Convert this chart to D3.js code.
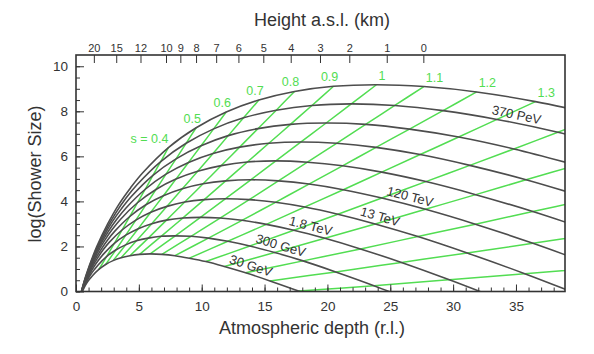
<!DOCTYPE html>
<html>
<head>
<meta charset="utf-8">
<script src="https://cdn.jsdelivr.net/npm/d3@7"></script>
<style>
  body { margin: 0; background: #fff; }
  svg { display: block; font-family: "Liberation Sans", Arial, sans-serif; }
</style>
</head>
<body>
<div id="chart"></div>
<script>
// shower age s of every sample point (same column order in each curve below)
const ages = [0.02, 0.05, 0.1, 0.15, 0.2, 0.25, 0.3, 0.4, 0.5, 0.6, 0.7, 0.8,
              0.9, 1.0, 1.1, 1.2, 1.3, 1.4, 1.5, 1.6, 1.7, 1.8, 1.9];

// one row per primary energy, lowest first
const energyLabels = ['30 GeV', '300 GeV', '1.8 TeV', '13 TeV', '120 TeV', '', '', '', '370 PeV', ''];
const labelDepth = [13.7, 16.1, 18.5, 24.0, 26.4, null, null, null, 34.9, null];

// atmospheric depth (r.l.) of each point
const depth = [
  [0.08, 0.2, 0.41, 0.62, 0.84, 1.07, 1.31, 1.82, 2.36, 2.95, 3.59, 4.29, 5.06, 5.9, 6.83, 7.87, 9.02, 10.33, 11.8, 13.49, 15.43, 17.7, 20.38],
  [0.11, 0.27, 0.55, 0.83, 1.13, 1.44, 1.76, 2.43, 3.16, 3.95, 4.81, 5.75, 6.77, 7.9, 9.15, 10.53, 12.08, 13.83, 15.8, 18.06, 20.66, 23.7, 27.29],
  [0.13, 0.34, 0.68, 1.04, 1.41, 1.8, 2.2, 3.05, 3.96, 4.95, 6.03, 7.2, 8.49, 9.9, 11.46, 13.2, 15.14, 17.33, 19.8, 22.63, 25.89, 29.7, 34.2],
  [0.16, 0.4, 0.82, 1.25, 1.7, 2.16, 2.64, 3.66, 4.76, 5.95, 7.24, 8.65, 10.2, 11.9, 13.78, 15.87, 18.2, 20.83, 23.8, 27.2, 31.12, 35.7, 41.11],
  [0.19, 0.47, 0.96, 1.46, 1.99, 2.53, 3.09, 4.28, 5.56, 6.95, 8.46, 10.11, 11.91, 13.9, 16.1, 18.53, 21.26, 24.33, 27.8, 31.77, 36.35, 41.7],
  [0.21, 0.54, 1.1, 1.67, 2.27, 2.89, 3.53, 4.89, 6.36, 7.95, 9.68, 11.56, 13.63, 15.9, 18.41, 21.2, 24.32, 27.83, 31.8, 36.34, 41.59],
  [0.24, 0.61, 1.23, 1.88, 2.56, 3.26, 3.98, 5.51, 7.16, 8.95, 10.9, 13.02, 15.34, 17.9, 20.73, 23.87, 27.38, 31.33, 35.8, 40.91],
  [0.27, 0.68, 1.37, 2.1, 2.84, 3.62, 4.42, 6.12, 7.96, 9.95, 12.11, 14.47, 17.06, 19.9, 23.04, 26.53, 30.44, 34.83, 39.8],
  [0.29, 0.74, 1.51, 2.31, 3.13, 3.98, 4.87, 6.74, 8.76, 10.95, 13.33, 15.93, 18.77, 21.9, 25.36, 29.2, 33.49, 38.33, 43.8],
  [0.32, 0.81, 1.65, 2.52, 3.41, 4.35, 5.31, 7.35, 9.56, 11.95, 14.55, 17.38, 20.49, 23.9, 27.67, 31.87, 36.55, 41.83]
];

// log10 of the shower size at the same points
const logSize = [
  [-0.66, -0.42, -0.11, 0.14, 0.36, 0.54, 0.7, 0.98, 1.2, 1.37, 1.5, 1.59, 1.65, 1.67, 1.65, 1.59, 1.48, 1.33, 1.11, 0.83, 0.47, 0.02, -0.57],
  [-0.64, -0.32, 0.1, 0.43, 0.72, 0.96, 1.18, 1.55, 1.84, 2.07, 2.25, 2.37, 2.45, 2.47, 2.45, 2.37, 2.23, 2.02, 1.73, 1.36, 0.87, 0.26, -0.52],
  [-0.61, -0.21, 0.31, 0.73, 1.09, 1.4, 1.67, 2.14, 2.5, 2.79, 3.01, 3.17, 3.26, 3.29, 3.26, 3.16, 2.98, 2.72, 2.36, 1.89, 1.29, 0.52, -0.45],
  [-0.57, -0.08, 0.54, 1.05, 1.47, 1.85, 2.18, 2.73, 3.17, 3.52, 3.78, 3.97, 4.08, 4.12, 4.08, 3.96, 3.75, 3.43, 3, 2.44, 1.71, 0.79, -0.38],
  [-0.52, 0.04, 0.77, 1.36, 1.86, 2.3, 2.68, 3.33, 3.85, 4.25, 4.56, 4.78, 4.91, 4.96, 4.91, 4.77, 4.52, 4.15, 3.65, 2.99, 2.14, 1.06],
  [-0.47, 0.18, 1.01, 1.69, 2.26, 2.76, 3.2, 3.94, 4.53, 4.99, 5.34, 5.59, 5.75, 5.8, 5.74, 5.58, 5.3, 4.88, 4.3, 3.55, 2.58],
  [-0.42, 0.31, 1.25, 2.01, 2.66, 3.22, 3.71, 4.54, 5.21, 5.73, 6.13, 6.41, 6.58, 6.64, 6.58, 6.4, 6.08, 5.6, 4.96, 4.11],
  [-0.36, 0.45, 1.5, 2.34, 3.06, 3.68, 4.23, 5.16, 5.89, 6.47, 6.92, 7.23, 7.42, 7.48, 7.42, 7.21, 6.86, 6.33, 5.61],
  [-0.3, 0.59, 1.74, 2.67, 3.46, 4.15, 4.75, 5.77, 6.58, 7.22, 7.71, 8.05, 8.26, 8.33, 8.26, 8.03, 7.64, 7.07, 6.27],
  [-0.24, 0.74, 1.99, 3, 3.87, 4.61, 5.27, 6.39, 7.27, 7.97, 8.5, 8.88, 9.11, 9.18, 9.1, 8.86, 8.43, 7.8]
];

// green lines of constant age, and the ones that get a label
const ageLines = [0.4, 0.5, 0.6, 0.7, 0.8, 0.9, 1.0, 1.1, 1.2, 1.3, 1.4, 1.5, 1.6, 1.7, 1.8];
const ageLabels = ['s = 0.4', '0.5', '0.6', '0.7', '0.8', '0.9', '1', '1.1', '1.2', '1.3'];

// top axis: height a.s.l. (km) and the depth it sits at
const heightKm = [20, 15, 12, 10, 9, 8, 7, 6, 5, 4, 3, 2, 1, 0];
const heightDepth = [1.42, 3.2, 5.13, 7.16, 8.3, 9.55, 11.15, 12.92, 14.9, 17.08, 19.41, 21.74, 24.72, 27.63];

function chart(div)
{
  const black = '#4d4d4d';
  const green = '#52dd52';
  const ink = '#333';

  const margin = {top: 55, right: 29, bottom: 62.5, left: 76};
  const visWidth = 594 - margin.left - margin.right;
  const visHeight = 354 - margin.top - margin.bottom;

  const svg = d3.select(div)
    .append('svg')
      .attr('width', 594)
      .attr('height', 354);

  const g = svg.append('g')
      .attr('transform', `translate(${margin.left}, ${margin.top})`);

  const x = d3.scaleLinear()
      .domain([0, 38.9])
      .range([0, visWidth]);

  const y = d3.scaleLinear()
      .domain([0, 10.5])
      .range([visHeight, 0]);

  svg.append('clipPath')
      .attr('id', 'plot-clip')
    .append('rect')
      .attr('width', visWidth)
      .attr('height', visHeight);

  const curves = depth.map((row, i) => row.map((t, j) => ({t: t, n: logSize[i][j], s: ages[j]})));

  const line = d3.line()
      .x(d => x(d.t))
      .y(d => y(d.n))
      .curve(d3.curveCatmullRom.alpha(0.5));

  const plot = g.append('g')
      .attr('clip-path', 'url(#plot-clip)');

  // constant age lines: same age taken from every curve
  const ageData = ageLines.map(s => {
    const j = ages.indexOf(s);
    return curves.filter(c => c[j]).map(c => c[j]);
  });

  plot.selectAll('.age')
    .data(ageData)
    .join('path')
      .attr('class', 'age')
      .attr('d', line)
      .attr('fill', 'none')
      .attr('stroke', green)
      .attr('stroke-width', 1.5);

  plot.selectAll('.shower')
    .data(curves)
    .join('path')
      .attr('class', 'shower')
      .attr('d', line)
      .attr('fill', 'none')
      .attr('stroke', black)
      .attr('stroke-width', 1.6);

  // age labels above the end on the highest curve
  g.selectAll('.ageLabel')
    .data(ageLabels)
    .join('text')
      .attr('class', 'ageLabel')
      .attr('x', (d, i) => {
        const p = ageData[i][ageData[i].length - 1];
        const s = ageLines[i];
        return x(p.t) + (i === 0 ? 0 : s < 1 ? -4 : 2);
      })
      .attr('y', (d, i) => y(ageData[i][ageData[i].length - 1].n) - 5)
      .attr('text-anchor', (d, i) => i === 0 ? 'end' : ageLines[i] < 1 ? 'middle' : 'start')
      .attr('font-size', 12.5)
      .attr('fill', green)
      .text(d => d);

  // energy labels laid along their curve
  const energyData = energyLabels
    .map((label, i) => ({label: label, t: labelDepth[i], c: curves[i]}))
    .filter(d => d.label);

  g.selectAll('.energy')
    .data(energyData)
    .join('text')
      .attr('class', 'energy')
      .attr('transform', d => {
        const k = d3.bisector(p => p.t).left(d.c, d.t);
        const a = d.c[k - 1], b = d.c[k];
        const f = (d.t - a.t) / (b.t - a.t);
        const px = x(d.t);
        const py = y(a.n + f * (b.n - a.n));
        const angle = Math.atan2(y(b.n) - y(a.n), x(b.t) - x(a.t)) * 180 / Math.PI;
        return `translate(${px},${py}) rotate(${angle})`;
      })
      .attr('y', -4)
      .attr('text-anchor', 'middle')
      .attr('font-size', 13)
      .attr('fill', ink)
      .text(d => d.label);

  // axes, ticks pointing into the plot
  const clean = sel => {
    sel.select('.domain').remove();
    sel.selectAll('line').attr('stroke', ink);
    sel.selectAll('text').attr('fill', ink).attr('font-family', null);
  };

  g.append('g')
      .attr('transform', `translate(0,${visHeight})`)
      .call(d3.axisBottom(x).tickValues(d3.range(0, 39, 1)).tickSize(-4).tickFormat(''))
      .call(clean);

  g.append('g')
      .attr('transform', `translate(0,${visHeight})`)
      .call(d3.axisBottom(x).tickValues(d3.range(0, 36, 5)).tickSize(-7).tickPadding(10))
      .attr('font-size', 13.5)
      .call(clean);

  g.append('g')
      .call(d3.axisLeft(y).tickValues(d3.range(0, 10.5, 0.5)).tickSize(-4).tickFormat(''))
      .call(clean);

  g.append('g')
      .call(d3.axisLeft(y).tickValues(d3.range(0, 11, 2)).tickSize(-8).tickPadding(8))
      .attr('font-size', 13.5)
      .call(clean);

  const xTop = d3.scaleOrdinal()
      .domain(heightKm)
      .range(heightDepth.map(x));

  g.append('g')
      .call(d3.axisTop(xTop).tickSize(-8).tickPadding(3))
      .attr('font-size', 11)
      .call(clean);

  g.append('rect')
      .attr('width', visWidth)
      .attr('height', visHeight)
      .attr('fill', 'none')
      .attr('stroke', ink)
      .attr('stroke-width', 1.6);

  // titles
  svg.append('text')
      .attr('x', 322)
      .attr('y', 26)
      .attr('text-anchor', 'middle')
      .attr('font-size', 18)
      .attr('fill', ink)
      .text('Height a.s.l. (km)');

  svg.append('text')
      .attr('x', 312)
      .attr('y', 334)
      .attr('text-anchor', 'middle')
      .attr('font-size', 18)
      .attr('fill', ink)
      .text('Atmospheric depth (r.l.)');

  svg.append('text')
      .attr('transform', `translate(41, 174) rotate(-90)`)
      .attr('text-anchor', 'middle')
      .attr('font-size', 18)
      .attr('fill', ink)
      .text('log(Shower Size)');
}

chart('#chart');
</script>
</body>
</html>
